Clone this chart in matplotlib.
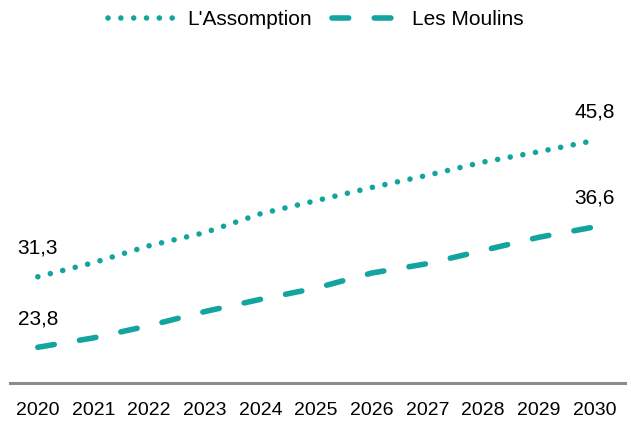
import matplotlib
matplotlib.use("Agg")
import matplotlib.pyplot as plt

plt.rcParams['font.family'] = ['Liberation Sans', 'DejaVu Sans']

years = [2020, 2021, 2022, 2023, 2024, 2025, 2026, 2027, 2028, 2029, 2030]
lassomption = [31.3, 32.8, 34.6, 36.0, 38.0, 39.4, 40.8, 42.1, 43.5, 44.6, 45.8]
les_moulins = [23.8, 24.8, 26.1, 27.6, 28.9, 30.1, 31.7, 32.7, 34.1, 35.5, 36.6]
series_names = ["L'Assomption", "Les Moulins"]
color = '#14A49F'

fig = plt.figure(figsize=(6.31, 4.22), dpi=100)
ax = fig.add_axes([10/631, 39/422, 615/631, 282/422])

l1, = ax.plot(years, lassomption, color=color, lw=4.0, linestyle=(0, (0.01, 2.3)),
              dash_capstyle='round', solid_capstyle='round', label=series_names[0])
l2, = ax.plot(years, les_moulins, color=color, lw=4.0, linestyle=(0, (3.0, 4.6)),
              dash_capstyle='round', solid_capstyle='round', label=series_names[1])

for ys in (lassomption, les_moulins):
    for i in (0, len(years) - 1):
        ax.annotate(f"{ys[i]:.1f}".replace('.', ','), (years[i], ys[i]),
                    xytext=(0, 20.5), textcoords='offset points',
                    ha='center', va='center', fontsize=15, color='black')

ax.set_xlim(2019.5, 2030.55)
ax.set_ylim(20, 50)
ax.set_xticks(years)
ax.set_xticklabels([str(y) for y in years], fontsize=14)
ax.tick_params(axis='x', length=0, pad=14)
ax.set_yticks([])
for s in ('top', 'right', 'left'):
    ax.spines[s].set_visible(False)
ax.spines['bottom'].set_color('#8C8C8C')
ax.spines['bottom'].set_linewidth(2.2)

fig.legend(handles=[l1, l2], loc='center', bbox_to_anchor=(0.5, 1 - 19.5/422),
           ncol=2, frameon=False, fontsize=15, handlelength=3.2,
           handletextpad=0.6, columnspacing=1.0)

fig.savefig('out.png', dpi=100)
